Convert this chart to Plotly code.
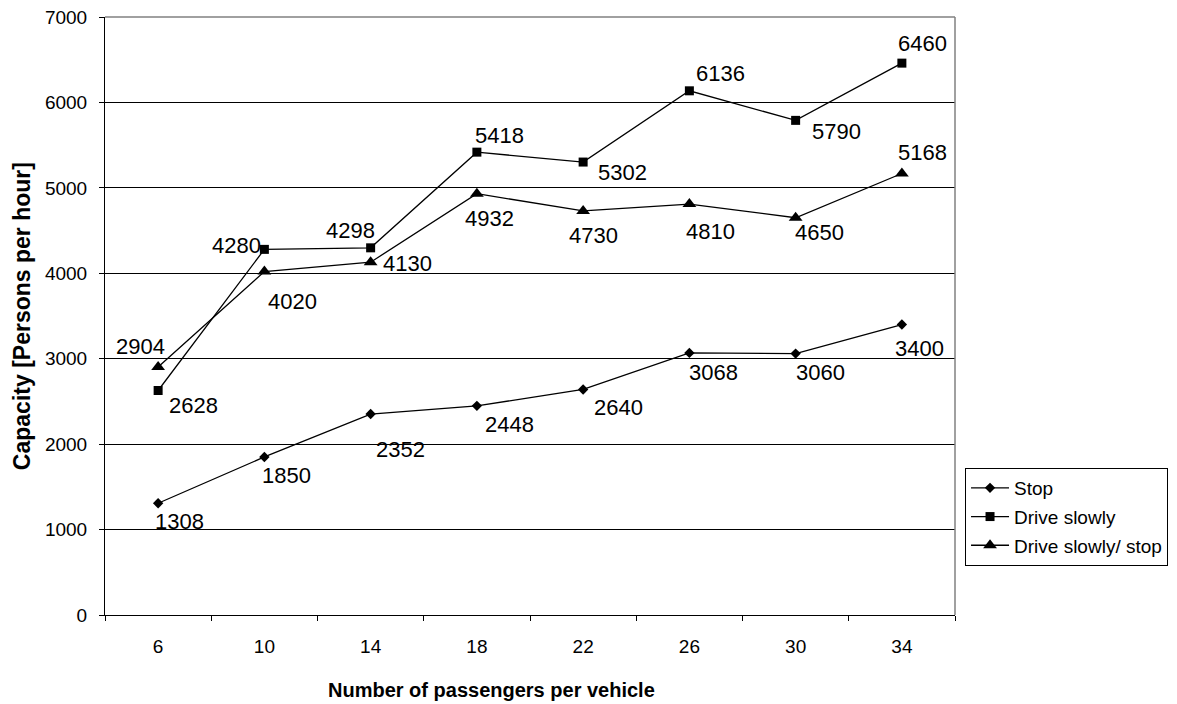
import plotly.graph_objects as go

# Number of passengers per vehicle (category axis)
passengers = ["6", "10", "14", "18", "22", "26", "30", "34"]

# Capacity in persons per hour for each operating mode
stop = [1308, 1850, 2352, 2448, 2640, 3068, 3060, 3400]
drive_slowly = [2628, 4280, 4298, 5418, 5302, 6136, 5790, 6460]
drive_slowly_stop = [2904, 4020, 4130, 4932, 4730, 4810, 4650, 5168]

series_names = ["Stop", "Drive slowly", "Drive slowly/ stop"]
series_values = [stop, drive_slowly, drive_slowly_stop]
marker_symbols = ["diamond", "square", "triangle-up"]
marker_sizes = [8, 9, 12]

# Pixel offsets (right, down) of each value label from its point
label_offsets = [
    [(21, 18), (22, 19), (30, 35), (33, 19), (35, 18), (24, 20), (25, 19), (18, 24)],
    [(35, 15), (-28, -4), (-20, -17), (23, -17), (39, 10), (31, -17), (41, 11), (21, -20)],
    [(-18, -20), (28, 30), (37, 1), (13, 25), (10, 25), (21, 27), (24, 15), (21, -21)],
]

FONT = "Liberation Sans, Arial, sans-serif"

fig = go.Figure()
annotations = []
for i, (name, vals, sym, size) in enumerate(
    zip(series_names, series_values, marker_symbols, marker_sizes)
):
    fig.add_trace(
        go.Scatter(
            x=passengers,
            y=vals,
            name=name,
            mode="lines+markers",
            legendgroup=name,
            line=dict(color="black", width=1.3),
            marker=dict(symbol=sym, size=size, color="black"),
            hoverinfo="x+y+name",
        )
    )
    # value labels, anchored on the category index of each point
    for k, (yv, (dx, dy)) in enumerate(zip(vals, label_offsets[i])):
        annotations.append(
            dict(
                x=k,
                y=yv,
                xref="x",
                yref="y",
                text=str(yv),
                showarrow=False,
                xshift=dx,
                yshift=-dy,
                font=dict(family=FONT, size=22, color="black"),
            )
        )

# axis titles
annotations.append(
    dict(
        text="<b>Number of passengers per vehicle</b>",
        xref="paper", yref="paper", x=0.455, y=-0.125,
        xanchor="center", yanchor="middle", showarrow=False,
        font=dict(family=FONT, size=20, color="black"),
    )
)
annotations.append(
    dict(
        text="<b>Capacity [Persons per hour]</b>",
        xref="paper", yref="paper", x=-0.0975, y=0.5,
        xanchor="center", yanchor="middle", showarrow=False, textangle=-90,
        font=dict(family=FONT, size=23, color="black"),
    )
)

fig.update_layout(
    width=1177,
    height=704,
    autosize=False,
    margin=dict(l=105, r=222, t=17, b=89, autoexpand=False),
    paper_bgcolor="white",
    plot_bgcolor="white",
    font=dict(family=FONT, color="black", size=19),
    annotations=annotations,
    showlegend=True,
    legend=dict(
        x=1.0118,
        xanchor="left",
        y=0.2458,
        yanchor="top",
        bgcolor="white",
        bordercolor="black",
        borderwidth=1,
        font=dict(family=FONT, size=19, color="black"),
        tracegroupgap=1,
        itemwidth=38,
    ),
    shapes=[
        dict(type="line", xref="paper", yref="paper", x0=0, x1=1, y0=1, y1=1,
             line=dict(color="#808080", width=1.5), layer="above"),
        dict(type="line", xref="paper", yref="paper", x0=1, x1=1, y0=0, y1=1,
             line=dict(color="#808080", width=1.5), layer="above"),
    ],
)

fig.update_xaxes(
    type="category",
    categoryorder="array",
    categoryarray=passengers,
    range=[-0.5, len(passengers) - 0.5],
    tickson="boundaries",
    ticks="outside",
    ticklen=5,
    tickcolor="black",
    tickangle=0,
    showline=True,
    linecolor="black",
    linewidth=1,
    showgrid=False,
    ticklabelstandoff=14,
    tickfont=dict(family=FONT, size=19, color="black"),
)

fig.update_yaxes(
    range=[0, 7000],
    dtick=1000,
    ticks="outside",
    ticklen=5,
    tickcolor="black",
    showline=True,
    linecolor="black",
    linewidth=1,
    showgrid=True,
    gridcolor="black",
    gridwidth=1,
    zeroline=False,
    ticklabelstandoff=8,
    tickfont=dict(family=FONT, size=19, color="black"),
)

fig.write_html("out.html")
